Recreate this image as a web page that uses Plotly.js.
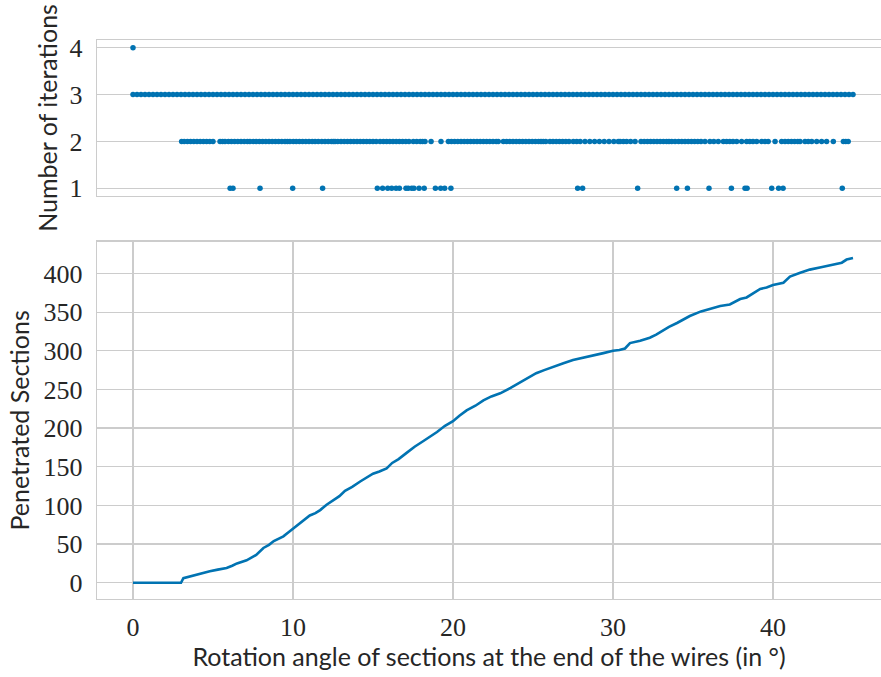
<!DOCTYPE html>
<html>
<head>
<meta charset="utf-8">
<script src="https://cdn.plot.ly/plotly-2.35.2.min.js"></script>
<style>html,body{margin:0;padding:0;background:#fff;overflow:hidden}</style>
</head>
<body>
<div id="chart" style="width:881px;height:677px"></div>
<script>
// ---- Data ----
// Top panel: number of iterations per rotation angle
const iter4Angles = [0];
const iter3Angles = [
  0,0.25,0.5,0.75,1,1.25,1.5,1.75,2,2.25,2.5,2.75,3,3.25,3.5,3.75,4,4.25,4.5,4.75,
  5,5.25,5.5,5.75,6,6.25,6.5,6.75,7,7.25,7.5,7.75,8,8.25,8.5,8.75,9,9.25,9.5,9.75,
  10,10.25,10.5,10.75,11,11.25,11.5,11.75,12,12.25,12.5,12.75,13,13.25,13.5,13.75,14,14.25,14.5,14.75,
  15,15.25,15.5,15.75,16,16.25,16.5,16.75,17,17.25,17.5,17.75,18,18.25,18.5,18.75,19,19.25,19.5,19.75,
  20,20.25,20.5,20.75,21,21.25,21.5,21.75,22,22.25,22.5,22.75,23,23.25,23.5,23.75,24,24.25,24.5,24.75,
  25,25.25,25.5,25.75,26,26.25,26.5,26.75,27,27.25,27.5,27.75,28,28.25,28.5,28.75,29,29.25,29.5,29.75,
  30,30.25,30.5,30.75,31,31.25,31.5,31.75,32,32.25,32.5,32.75,33,33.25,33.5,33.75,34,34.25,34.5,34.75,
  35,35.25,35.5,35.75,36,36.25,36.5,36.75,37,37.25,37.5,37.75,38,38.25,38.5,38.75,39,39.25,39.5,39.75,
  40,40.25,40.5,40.75,41,41.25,41.5,41.75,42,42.25,42.5,42.75,43,43.25,43.5,43.75,44,44.25,44.5,44.75,45
];
const iter2Angles = [
  3.04,3.2,3.4,3.6,3.8,4.0,4.2,4.4,4.6,4.8,5.0,
  5.44,5.6,5.75,
  5.96,6.15,6.35,6.55,6.75,6.95,7.15,7.31,
  7.52,7.7,7.9,8.1,8.3,8.5,8.7,8.9,9.1,9.3,9.5,9.65,9.81,
  10.02,10.2,10.4,10.6,10.8,11.0,11.2,11.38,
  11.58,11.8,12.0,12.2,12.4,12.52,
  12.63,12.8,13.0,13.2,13.4,13.6,13.8,14.0,14.2,14.4,14.6,14.8,15.0,15.2,15.44,
  15.65,15.85,16.05,16.25,16.45,16.65,16.85,17.05,17.25,17.52,
  17.73,17.95,18.1,18.25,
  18.63,
  19.25,
  19.71,19.9,20.1,20.3,20.5,20.7,20.9,21.1,21.3,21.5,21.7,21.9,22.1,22.3,22.5,22.7,22.83,
  23.15,23.35,23.55,23.75,23.95,24.15,24.35,24.55,24.75,24.95,25.15,25.35,25.5,25.64,
  25.8,
  26.06,26.25,26.45,26.65,26.85,27.05,27.25,27.52,
  27.73,27.95,28.25,28.55,28.85,29.15,29.45,29.75,30.05,30.33,
  30.44,30.65,30.85,31.1,31.38,
  31.75,31.95,32.15,32.35,32.55,32.75,32.95,33.15,33.35,33.5,33.67,
  33.88,34.1,34.3,34.5,34.7,34.9,35.1,35.3,35.5,35.75,
  36.06,36.3,36.58,
  36.9,37.1,37.3,37.5,37.73,
  38.04,
  38.35,38.55,38.75,38.98,
  39.29,39.5,39.7,
  40.13,
  40.54,40.75,40.95,41.15,41.35,41.55,41.69,
  42.0,42.2,42.42,
  42.73,43.04,
  43.35,
  43.77,
  44.4,44.55,44.7
];
const iter1Angles = [
  6.07,6.25,7.94,9.98,11.85,15.27,15.6,15.92,16.17,16.44,16.65,17.06,17.2,17.42,17.56,
  17.88,18.2,18.9,19.23,19.48,19.87,
  27.79,28.1,31.54,33.98,34.65,36.0,37.4,38.25,38.38,39.92,40.35,40.63,44.33
];

// Bottom panel: penetrated sections vs rotation angle
const curveAngles = [
  0,3.0,3.15,3.5,4.0,4.4,4.8,5.3,5.85,6.2,6.5,7.1,7.4,7.7,8.15,8.5,8.8,9.4,9.7,10.0,10.45,10.7,11.05,11.4,11.7,
  12.1,12.5,12.9,13.25,13.7,14.2,14.6,15.0,15.4,15.85,16.2,16.6,17.1,17.6,18.2,18.6,19.0,19.5,20.0,20.4,20.85,
  21.4,21.9,22.4,22.95,23.6,24.2,24.8,25.2,25.7,26.3,26.9,27.5,28.2,28.8,29.4,30.0,30.4,30.75,31.06,31.7,
  32.3,32.7,33.1,33.5,34.0,34.4,34.8,35.5,36.2,36.7,37.3,37.95,38.35,38.8,39.2,39.6,40.0,40.65,41.06,41.7,
  42.3,43.0,43.6,44.3,44.6,45.0
];
const curveSections = [
  0,0,6,8,11,13,15,17,19,22,25,29,32,36,45,49,54,60,65,70,78,82,87,90,94,
  101,107,112,119,124,131,136,141,144,148,155,160,168,176,184,189,195,203,209,216,223,
  229,236,241,245,252,259,267,271,275,280,284,288,291,294,297,300,301,303,310,313,
  317,321,326,331,336,341,345,351,355,358,360,367,369,375,380,382,385,388,396,401,
  405,408,411,414,418,420
];

const xTicks = [0,10,20,30,40];
const yTopTicks = [1,2,3,4];
const yBottomTicks = [0,50,100,150,200,250,300,350,400];

// ---- Styling ----
const blue = '#0173b2';
const grid = '#cccccc';
const tickFont = {family:'Liberation Serif, DejaVu Serif, serif', size:26, color:'#262626'};
const titleFont = {family:'Lato, DejaVu Sans, sans-serif', size:25, color:'#262626'};

const mk = (xs, yv) => ({
  x: xs, y: xs.map(() => yv), xaxis:'x2', yaxis:'y2',
  type:'scatter', mode:'markers',
  marker:{color:blue, size:5.5, line:{width:0}},
  hoverinfo:'x+y', showlegend:false
});

const traces = [
  mk(iter4Angles, 4),
  mk(iter3Angles, 3),
  mk(iter2Angles, 2),
  mk(iter1Angles, 1),
  {x:curveAngles, y:curveSections, xaxis:'x', yaxis:'y', type:'scatter', mode:'lines',
   line:{color:blue, width:2.6}, showlegend:false}
];

const layout = {
  width:881, height:677,
  margin:{l:97, r:0, t:40, b:78},
  paper_bgcolor:'#ffffff', plot_bgcolor:'#ffffff',
  showlegend:false,
  xaxis:{
    domain:[0,1], anchor:'y', range:[-2.25,46.75],
    tickvals:xTicks, ticks:'', showgrid:true, gridcolor:grid, gridwidth:1.3,
    showline:true, mirror:true, linecolor:grid, linewidth:1.3, zeroline:false,
    tickfont:tickFont, ticklabelstandoff:4,
    title:{text:'Rotation angle of sections at the end of the wires (in °)', font:titleFont, standoff:6}
  },
  yaxis:{
    domain:[0,0.639], anchor:'x', range:[-21,441],
    tickvals:yBottomTicks, ticks:'', showgrid:true, gridcolor:grid, gridwidth:1.3,
    showline:true, mirror:true, linecolor:grid, linewidth:1.3, zeroline:false,
    tickfont:tickFont, ticklabelstandoff:8,
    title:{text:'Penetrated Sections', font:titleFont, standoff:6}
  },
  xaxis2:{
    domain:[0,1], anchor:'y2', matches:'x', range:[-2.25,46.75],
    tickvals:xTicks, showticklabels:false, ticks:'', showgrid:false,
    showline:true, mirror:true, linecolor:grid, linewidth:1.3, zeroline:false
  },
  yaxis2:{
    domain:[0.721,1], anchor:'x2', range:[0.835,4.165],
    tickvals:yTopTicks, ticks:'', showgrid:true, gridcolor:grid, gridwidth:1.3,
    showline:true, mirror:true, linecolor:grid, linewidth:1.3, zeroline:false,
    tickfont:tickFont, ticklabelstandoff:8,
    title:{text:'Number of iterations', font:titleFont, standoff:4}
  }
};

Plotly.newPlot('chart', traces, layout, {displayModeBar:false, staticPlot:true});
</script>
</body>
</html>
